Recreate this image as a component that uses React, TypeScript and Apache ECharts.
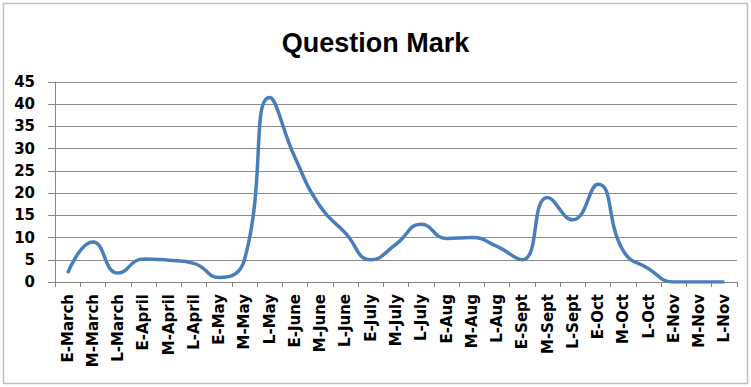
import React, { useEffect, useRef } from "react";
import * as echarts from "echarts";

const categories = [
  "E-March", "M-March", "L-March",
  "E-April", "M-April", "L-April",
  "E-May", "M-May", "L-May",
  "E-June", "M-June", "L-June",
  "E-July", "M-July", "L-July",
  "E-Aug", "M-Aug", "L-Aug",
  "E-Sept", "M-Sept", "L-Sept",
  "E-Oct", "M-Oct", "L-Oct",
  "E-Nov", "M-Nov", "L-Nov",
];

const values = [
  2, 9, 2,
  5.2, 4.9, 4.2,
  1, 5, 41.5,
  28, 17, 11,
  5, 8.5, 13,
  9.8, 10, 8,
  5, 19, 14,
  22, 7, 3,
  0, 0, 0,
];

const yTicks = [0, 5, 10, 15, 20, 25, 30, 35, 40, 45];
const titleText = "Question Mark";

export default function App() {
  const ref = useRef<HTMLDivElement>(null);

  useEffect(() => {
    if (!ref.current) return;
    const chart = echarts.init(ref.current, null, { renderer: "svg" });
    chart.setOption({
      animation: false,
      backgroundColor: "#ffffff",
      title: {
        text: titleText,
        left: "center",
        top: 24,
        textStyle: {
          fontFamily: "Liberation Sans",
          fontWeight: "bold",
          fontSize: 27,
          color: "#000000",
        },
      },
      graphic: [
        {
          type: "rect",
          shape: { x: 3.5, y: 3.5, width: 744, height: 380 },
          style: { fill: "none", stroke: "#bfbfbf", lineWidth: 1.5 },
          silent: true,
        },
      ],
      grid: { left: 55, right: 14, top: 82, bottom: 105, containLabel: false },
      xAxis: {
        type: "category",
        data: categories,
        boundaryGap: true,
        axisLine: { show: true, lineStyle: { color: "#868686", width: 1 } },
        axisTick: { show: true, length: 5, alignWithLabel: false, lineStyle: { color: "#868686" } },
        axisLabel: {
          rotate: 90,
          interval: 0,
          margin: 12,
          fontFamily: "DejaVu Sans",
          fontWeight: "bold",
          fontSize: 15,
          color: "#000000",
        },
        splitLine: { show: false },
      },
      yAxis: {
        type: "value",
        min: yTicks[0],
        max: yTicks[yTicks.length - 1],
        interval: 5,
        axisLine: { show: true, lineStyle: { color: "#868686", width: 1 } },
        axisTick: { show: true, length: 7, lineStyle: { color: "#868686" } },
        axisLabel: {
          margin: 20,
          fontFamily: "DejaVu Sans",
          fontWeight: "bold",
          fontSize: 15,
          color: "#000000",
        },
        splitLine: { show: true, lineStyle: { color: "#8c8c8c", width: 1 } },
      },
      series: [
        {
          type: "line",
          data: values,
          smooth: 0.5,
          showSymbol: false,
          symbol: "none",
          lineStyle: { color: "#4a7ebb", width: 3.5 },
          itemStyle: { color: "#4a7ebb" },
        },
      ],
    });
    return () => chart.dispose();
  }, []);

  return (
    <div
      ref={ref}
      style={{ position: "fixed", left: 0, top: 0, width: 751, height: 387 }}
    />
  );
}
